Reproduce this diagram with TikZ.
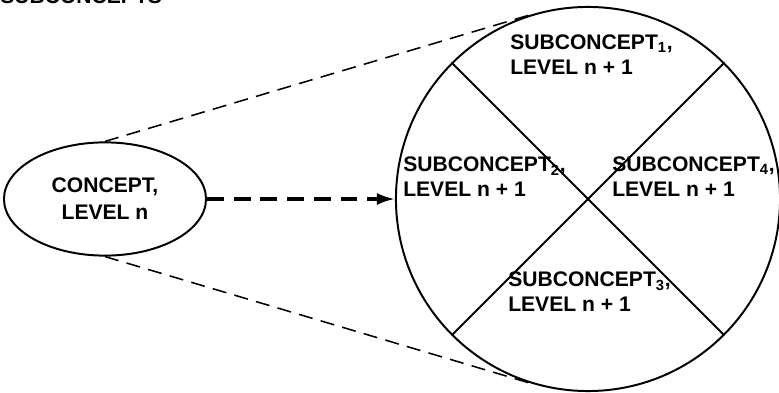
\documentclass[tikz,border=0pt]{standalone}
\usepackage{fontspec}
\setmainfont{Liberation Sans}
\usetikzlibrary{arrows.meta,positioning,calc,shapes.geometric}

\begin{document}
\begin{tikzpicture}[
  x=0.025cm,y=-0.025cm,
  font=\bfseries\fontsize{15}{18}\selectfont,
  ell/.style={draw,ellipse,line width=1.4pt,minimum width=5.05cm,minimum height=2.83cm,align=center,inner sep=0pt,font=\bfseries\fontsize{15}{19.2}\selectfont},
  whole/.style={draw,circle,line width=1.4pt,minimum size=9.6cm,inner sep=0pt},
  sub/.style={align=left,anchor=base west,inner sep=0pt},
  cut/.style={line width=1.3pt},
  zoomline/.style={line width=1.1pt,dash pattern=on 10pt off 6pt},
  arr/.style={-{Latex[length=4.5mm,width=3mm]},line width=2.2pt,dash pattern=on 12pt off 7pt}
]
\clip (0,0) rectangle (779,393);
\node[sub] (title) at (0,4) {SUBCONCEPTS};
\node[ell] (concept) at (105,199) {CONCEPT,\\LEVEL n};
\node[whole] (whole) at (588,199) {};
\node[sub] (sub1) at (510,75) {SUBCONCEPT\textsubscript{1},\\LEVEL n + 1};
\node[sub] (sub2) at (403,197) {SUBCONCEPT\textsubscript{2},\\LEVEL n + 1};
\node[sub] (sub4) at (612,197) {SUBCONCEPT\textsubscript{4},\\LEVEL n + 1};
\node[sub] (sub3) at (508,312) {SUBCONCEPT\textsubscript{3},\\LEVEL n + 1};
\draw[cut] (whole.45) -- (whole.225);
\draw[cut] (whole.135) -- (whole.315);
\draw[arr] (concept) -- (whole);
\draw[zoomline] (concept.north) -- (whole.106);
\draw[zoomline] (concept.south) -- (whole.253);
\end{tikzpicture}
\end{document}
